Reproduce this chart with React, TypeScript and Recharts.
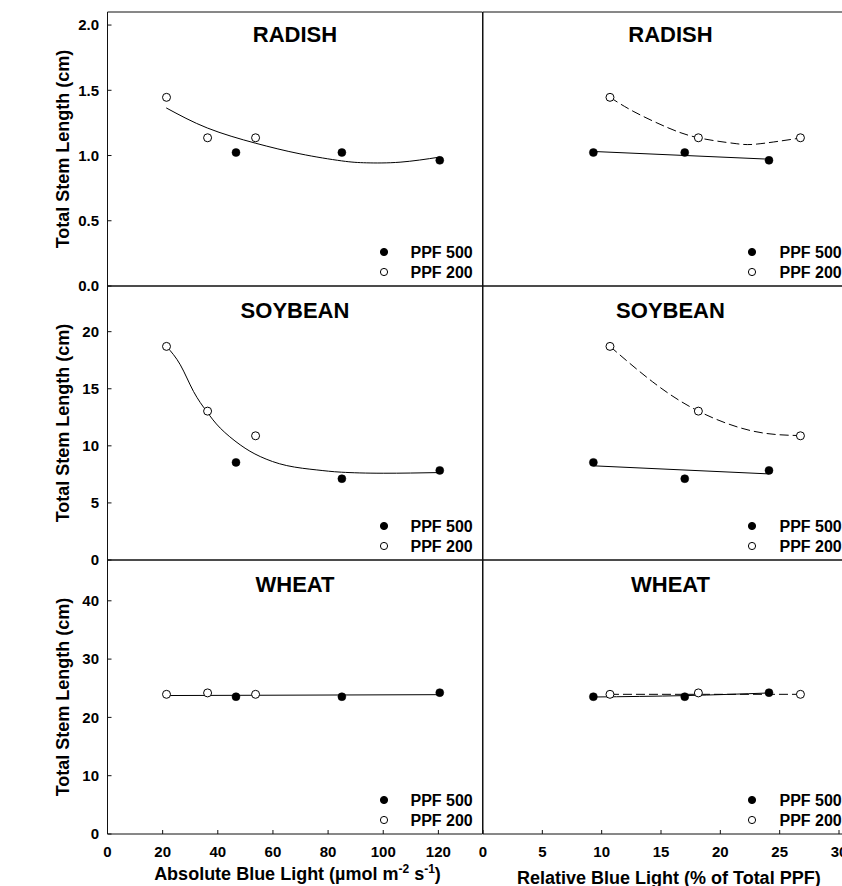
import React from 'react';
import { ComposedChart, Scatter, Line, XAxis, YAxis, Legend } from 'recharts';

const FONT = '"Liberation Sans", Arial, Helvetica, sans-serif';

// ---------------- data ----------------
// x positions (absolute blue light, µmol m-2 s-1) and (relative blue light, % of PPF)
const absBlue500 = [46.6, 85.0, 120.5];
const absBlue200 = [21.4, 36.3, 53.7];
const relBlue500 = [9.3, 17.0, 24.1];
const relBlue200 = [10.7, 18.15, 26.75];

// total stem length (cm)
const radishPPF500 = [1.023, 1.023, 0.963];
const radishPPF200 = [1.446, 1.136, 1.136];
const soybeanPPF500 = [8.55, 7.12, 7.85];
const soybeanPPF200 = [18.71, 13.04, 10.88];
const wheatPPF500 = [23.55, 23.55, 24.25];
const wheatPPF200 = [23.96, 24.2, 23.96];

// fitted curves
const radishAbsFitX = [21.3, 36.2, 53.6, 69.8, 84.9, 94.0, 106.1, 120.5];
const radishAbsFitY = [1.365, 1.211, 1.095, 1.013, 0.959, 0.944, 0.949, 0.988];
const soybeanAbsFitX = [21.4, 26.4, 31.2, 36.0, 40.9, 48.1, 55.4, 65.0, 75.9, 84.9, 100.0, 120.5];
const soybeanAbsFitY = [18.71, 17.1, 14.76, 13.0, 11.55, 10.09, 9.06, 8.27, 7.89, 7.69, 7.6, 7.66];
const wheatAbsFitX = [21.4, 120.5];
const wheatAbsFitY = [23.75, 23.9];

const radishRel500FitX = [9.3, 24.1];
const radishRel500FitY = [1.031, 0.972];
const radishRel200FitX = [10.7, 12.72, 15.53, 18.15, 21.15, 23.1, 26.75];
const radishRel200FitY = [1.446, 1.336, 1.215, 1.136, 1.093, 1.088, 1.134];
const soybeanRel500FitX = [9.3, 24.1];
const soybeanRel500FitY = [8.25, 7.54];
const soybeanRel200FitX = [10.7, 14.3, 18.15, 22.7, 26.75];
const soybeanRel200FitY = [18.71, 15.6, 13.04, 11.3, 10.9];
const wheatRel500FitX = [9.3, 17.0, 24.1];
const wheatRel500FitY = [23.5, 23.74, 24.19];
const wheatRel200FitX = [10.7, 26.75];
const wheatRel200FitY = [23.96, 23.96];

// axes
const absTicks = [0, 20, 40, 60, 80, 100, 120];
const relTicks = [0, 5, 10, 15, 20, 25, 30];
const radishTicks = [0, 0.5, 1.0, 1.5, 2.0];
const soybeanTicks = [0, 5, 10, 15, 20];
const wheatTicks = [0, 10, 20, 30, 40];
const absDomain: [number, number] = [0, 136];
const relDomain: [number, number] = [0, 31.6];
const radishDomain: [number, number] = [0, 2.1];
const soybeanDomain: [number, number] = [0, 24];
const wheatDomain: [number, number] = [0, 47];

const seriesNames = ['PPF 500', 'PPF 200'];

// ---------------- layout ----------------
const PAGE_W = 842;
const PAGE_H = 886;
const PLOT_W = 375;
const PLOT_H = 274;
const COL_X = [107.5, 482.5];
const ROW_Y = [12, 286, 560];
const AXIS_STROKE = '#111';
const tickFont = { fontSize: 15, fontWeight: 700, fill: '#000', fontFamily: FONT };

const pts = (xs: number[], ys: number[]) => xs.map((x, i) => ({ x, y: ys[i] }));

const FilledDot = (p: any) => <circle cx={p.cx} cy={p.cy} r={4} fill="#000" stroke="#000" strokeWidth={0.5} />;
const OpenDot = (p: any) => <circle cx={p.cx} cy={p.cy} r={4} fill="#fff" stroke="#000" strokeWidth={1} />;

type Fit = { data: { x: number; y: number }[]; dashed: boolean };
type PanelCfg = {
  col: number;
  row: number;
  title: string;
  titleOff: number;
  xDomain: [number, number];
  xTicks: number[];
  yDomain: [number, number];
  yTicks: number[];
  yFmt?: (v: number) => string;
  s500: { x: number; y: number }[];
  s200: { x: number; y: number }[];
  fits: Fit[];
};

const panels: PanelCfg[] = [
  {
    col: 0, row: 0, title: 'RADISH', titleOff: 14.4, xDomain: absDomain, xTicks: absTicks,
    yDomain: radishDomain, yTicks: radishTicks, yFmt: (v) => v.toFixed(1),
    s500: pts(absBlue500, radishPPF500), s200: pts(absBlue200, radishPPF200),
    fits: [{ data: pts(radishAbsFitX, radishAbsFitY), dashed: false }],
  },
  {
    col: 1, row: 0, title: 'RADISH', titleOff: 14.4, xDomain: relDomain, xTicks: relTicks,
    yDomain: radishDomain, yTicks: radishTicks,
    s500: pts(relBlue500, radishPPF500), s200: pts(relBlue200, radishPPF200),
    fits: [
      { data: pts(radishRel500FitX, radishRel500FitY), dashed: false },
      { data: pts(radishRel200FitX, radishRel200FitY), dashed: true },
    ],
  },
  {
    col: 0, row: 1, title: 'SOYBEAN', titleOff: 16.1, xDomain: absDomain, xTicks: absTicks,
    yDomain: soybeanDomain, yTicks: soybeanTicks,
    s500: pts(absBlue500, soybeanPPF500), s200: pts(absBlue200, soybeanPPF200),
    fits: [{ data: pts(soybeanAbsFitX, soybeanAbsFitY), dashed: false }],
  },
  {
    col: 1, row: 1, title: 'SOYBEAN', titleOff: 16.1, xDomain: relDomain, xTicks: relTicks,
    yDomain: soybeanDomain, yTicks: soybeanTicks,
    s500: pts(relBlue500, soybeanPPF500), s200: pts(relBlue200, soybeanPPF200),
    fits: [
      { data: pts(soybeanRel500FitX, soybeanRel500FitY), dashed: false },
      { data: pts(soybeanRel200FitX, soybeanRel200FitY), dashed: true },
    ],
  },
  {
    col: 0, row: 2, title: 'WHEAT', titleOff: 16.1, xDomain: absDomain, xTicks: absTicks,
    yDomain: wheatDomain, yTicks: wheatTicks,
    s500: pts(absBlue500, wheatPPF500), s200: pts(absBlue200, wheatPPF200),
    fits: [{ data: pts(wheatAbsFitX, wheatAbsFitY), dashed: false }],
  },
  {
    col: 1, row: 2, title: 'WHEAT', titleOff: 16.1, xDomain: relDomain, xTicks: relTicks,
    yDomain: wheatDomain, yTicks: wheatTicks,
    s500: pts(relBlue500, wheatPPF500), s200: pts(relBlue200, wheatPPF200),
    fits: [
      { data: pts(wheatRel500FitX, wheatRel500FitY), dashed: false },
      { data: pts(wheatRel200FitX, wheatRel200FitY), dashed: true },
    ],
  },
];

const AbsXTitle = (p: any) => {
  const x = COL_X[0] + PLOT_W / 2 + 2.5;
  const y = 12 + PLOT_H + 46;
  return (
    <text x={x} y={y} textAnchor="middle" fontSize={18} fontWeight={700} fontFamily={FONT} fill="#000">
      Absolute Blue Light (µmol m
      <tspan dy={-7} fontSize={12}>-2</tspan>
      <tspan dy={7}> s</tspan>
      <tspan dy={-7} fontSize={12}>-1</tspan>
      <tspan dy={7}>)</tspan>
    </text>
  );
};

const RelXTitle = (p: any) => {
  const x = 10 + PLOT_W / 2 - 1.7;
  const y = 12 + PLOT_H + 50;
  return (
    <text x={x} y={y} textAnchor="middle" fontSize={18} fontWeight={700} fontFamily={FONT} fill="#000">
      Relative Blue Light (% of Total PPF)
    </text>
  );
};

const makeLegend = (textDx: number) => (props: any) => {
  const raw = (props && props.payload) || [];
  const items = seriesNames
    .map((n) => raw.find((e: any) => e && e.value === n && e.type !== 'none'))
    .filter(Boolean);
  return (
    <svg width={160} height={40} style={{ display: 'block', overflow: 'visible' }}>
      {items.map((e: any, i: number) => {
        const fill = (e.payload && e.payload.fill) || e.color || '#000';
        return (
          <g key={i}>
            <circle cx={10} cy={10 + i * 20} r={3.6} fill={fill} stroke="#000" strokeWidth={1} />
            <text
              x={10 + textDx}
              y={10 + i * 20}
              dominantBaseline="central"
              fontSize={16}
              fontWeight={700}
              fontFamily={FONT}
              fill="#000"
            >
              {e.value}
            </text>
          </g>
        );
      })}
    </svg>
  );
};

function Panel({ cfg }: { cfg: PanelCfg }) {
  const { col, row } = cfg;
  const leftW = col === 0 ? COL_X[0] : 10;
  const rightW = 10;
  const topH = 12;
  const bottomH = row === 2 ? PAGE_H - ROW_Y[2] - PLOT_H : 10;
  const divLeft = COL_X[col] - leftW;
  const divTop = ROW_Y[row] - topH;
  const W = leftW + PLOT_W + rightW;
  const H = topH + PLOT_H + bottomH;
  const markerX = col === 0 ? 383.5 : 279;
  const textDx = col === 0 ? 26.5 : 27.5;
  const legendTop = topH + PLOT_H - 34.5 - 10;

  return (
    <div style={{ position: 'absolute', left: divLeft, top: divTop }}>
      <ComposedChart width={W} height={H} margin={{ top: 0, right: 0, bottom: 0, left: 0 }}>
        <XAxis
          xAxisId="b"
          type="number"
          dataKey="x"
          orientation="bottom"
          domain={cfg.xDomain}
          ticks={cfg.xTicks}
          interval={0}
          allowDataOverflow
          height={bottomH}
          tickSize={-4}
          tickMargin={16.5}
          tick={row === 2 ? tickFont : false}
          stroke={AXIS_STROKE}
          label={row === 2 ? (col === 0 ? <AbsXTitle /> : <RelXTitle />) : undefined}
        />
        <XAxis
          xAxisId="t"
          type="number"
          dataKey="x"
          orientation="top"
          domain={cfg.xDomain}
          ticks={cfg.xTicks}
          interval={0}
          allowDataOverflow
          height={topH}
          tickSize={-4}
          tick={false}
          stroke={AXIS_STROKE}
          label={{
            value: cfg.title,
            position: 'bottom',
            offset: cfg.titleOff,
            fontSize: 22,
            fontWeight: 700,
            fill: '#000',
            fontFamily: FONT,
          }}
        />
        <YAxis
          yAxisId="l"
          type="number"
          dataKey="y"
          orientation="left"
          domain={cfg.yDomain}
          ticks={cfg.yTicks}
          interval={0}
          allowDataOverflow
          width={leftW}
          tickSize={-4}
          tickMargin={12.5}
          tick={col === 0 ? tickFont : false}
          tickFormatter={cfg.yFmt}
          stroke={AXIS_STROKE}
          label={
            col === 0
              ? {
                  value: 'Total Stem Length (cm)',
                  angle: -90,
                  position: 'insideLeft',
                  offset: 63,
                  fontSize: 18,
                  fontWeight: 700,
                  fill: '#000',
                  fontFamily: FONT,
                  style: { textAnchor: 'middle' },
                }
              : undefined
          }
        />
        <YAxis
          yAxisId="r"
          type="number"
          orientation="right"
          domain={cfg.yDomain}
          ticks={cfg.yTicks}
          interval={0}
          allowDataOverflow
          width={rightW}
          tickSize={-4}
          tick={false}
          stroke={AXIS_STROKE}
        />
        <Scatter
          name={seriesNames[0]}
          data={cfg.s500}
          xAxisId="b"
          yAxisId="l"
          fill="#000"
          shape={FilledDot}
          isAnimationActive={false}
        />
        <Scatter
          name={seriesNames[1]}
          data={cfg.s200}
          xAxisId="b"
          yAxisId="l"
          fill="#fff"
          shape={OpenDot}
          isAnimationActive={false}
        />
        {cfg.fits.map((f, i) => (
          <Line
            key={i}
            data={f.data}
            dataKey="y"
            name={'fit' + i}
            xAxisId="b"
            yAxisId="l"
            type={f.data.length > 2 ? 'natural' : 'linear'}
            stroke="#000"
            strokeWidth={1}
            strokeDasharray={f.dashed ? '9 4' : undefined}
            dot={false}
            activeDot={false}
            legendType="none"
            isAnimationActive={false}
          />
        ))}
        <Legend
          layout="horizontal"
          verticalAlign="middle"
          align="center"
          content={makeLegend(textDx)}
          wrapperStyle={{ left: markerX - 10, top: legendTop, width: 160, height: 40 }}
        />
      </ComposedChart>
    </div>
  );
}

export default function App() {
  return (
    <div
      style={{
        position: 'absolute',
        left: 0,
        top: 0,
        width: PAGE_W,
        height: PAGE_H,
        overflow: 'hidden',
        background: '#fff',
        fontFamily: FONT,
      }}
    >
      {panels.map((p, i) => (
        <Panel key={i} cfg={p} />
      ))}
    </div>
  );
}
